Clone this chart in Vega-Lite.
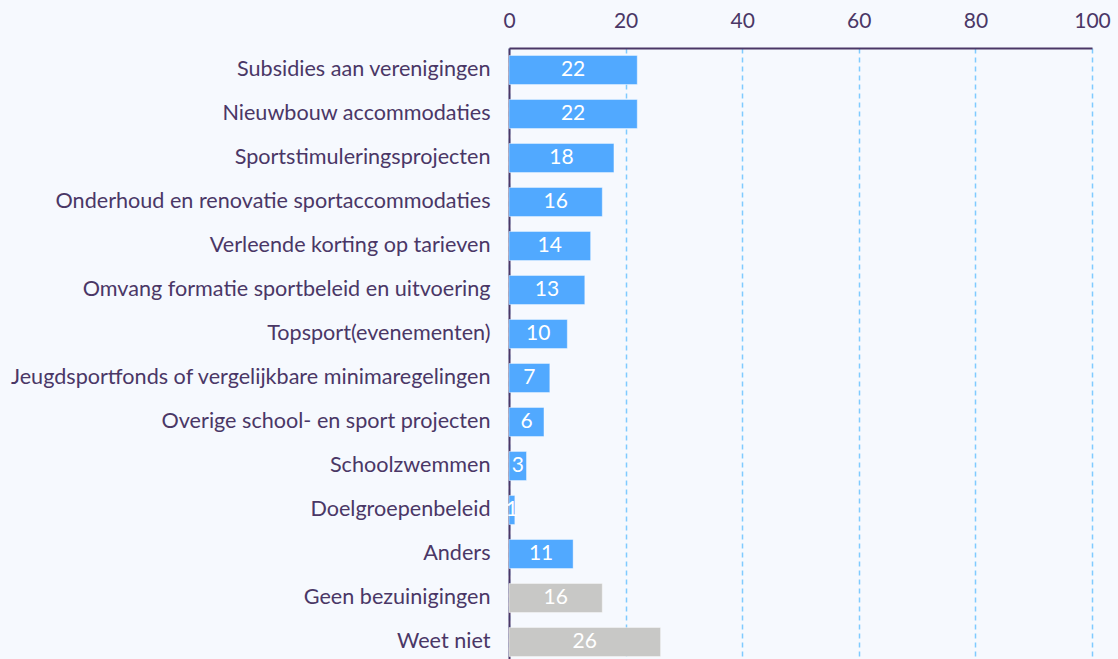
{
  "$schema": "https://vega.github.io/schema/vega-lite/v6.json",
  "width": 583,
  "height": 616,
  "autosize": {"type": "none"},
  "padding": {"left": 509, "top": 48, "right": 26, "bottom": 0},
  "background": "#f6f9fe",
  "config": {
    "view": {"stroke": null},
    "font": "Lato",
    "axis": {"labelFont": "Lato", "labelColor": "#4a3766", "labelFontSize": 21}
  },
  "data": {
    "values": [
      {"cat": "Subsidies aan verenigingen", "v": 22, "g": "a"},
      {"cat": "Nieuwbouw accommodaties", "v": 22, "g": "a"},
      {"cat": "Sportstimuleringsprojecten", "v": 18, "g": "a"},
      {"cat": "Onderhoud en renovatie sportaccommodaties", "v": 16, "g": "a"},
      {"cat": "Verleende korting op tarieven", "v": 14, "g": "a"},
      {"cat": "Omvang formatie sportbeleid en uitvoering", "v": 13, "g": "a"},
      {"cat": "Topsport(evenementen)", "v": 10, "g": "a"},
      {"cat": "Jeugdsportfonds of vergelijkbare minimaregelingen", "v": 7, "g": "a"},
      {"cat": "Overige school- en sport projecten", "v": 6, "g": "a"},
      {"cat": "Schoolzwemmen", "v": 3, "g": "a"},
      {"cat": "Doelgroepenbeleid", "v": 1, "g": "a"},
      {"cat": "Anders", "v": 11, "g": "a"},
      {"cat": "Geen bezuinigingen\u00a0", "v": 16, "g": "b"},
      {"cat": "Weet niet", "v": 26, "g": "b"}
    ]
  },
  "encoding": {
    "y": {
      "field": "cat", "type": "nominal", "sort": null, "title": null,
      "scale": {"paddingInner": 0.34, "paddingOuter": 0.17},
      "axis": {"ticks": false, "labelPadding": 19, "labelFontSize": 21.6, "domainColor": "#4a3766", "domainWidth": 2, "labelLimit": 600}
    }
  },
  "layer": [
    {
      "mark": {"type": "bar", "stroke": "#ffffff", "strokeOpacity": 0.4, "strokeWidth": 1},
      "encoding": {
        "x": {
          "field": "v", "type": "quantitative", "title": null,
          "scale": {"domain": [0, 100], "nice": false},
          "axis": {"orient": "top", "values": [0, 20, 40, 60, 80, 100], "ticks": false, "labelPadding": 17, "labelFlush": false,
                   "domainColor": "#4a3766", "domainWidth": 2,
                   "grid": true, "gridColor": "#7fcbff", "gridDash": [5, 4], "gridWidth": 1.5}
        },
        "color": {"field": "g", "type": "nominal", "legend": null,
                  "scale": {"domain": ["a", "b"], "range": ["#51a9ff", "#c8c8c6"]}}
      }
    },
    {
      "transform": [{"calculate": "datum.v / 2", "as": "mid"}],
      "mark": {"type": "text", "color": "white", "fontSize": 21, "font": "Lato", "baseline": "middle", "align": "center"},
      "encoding": {
        "x": {"field": "mid", "type": "quantitative"},
        "text": {"field": "v", "type": "quantitative"}
      }
    }
  ]
}
